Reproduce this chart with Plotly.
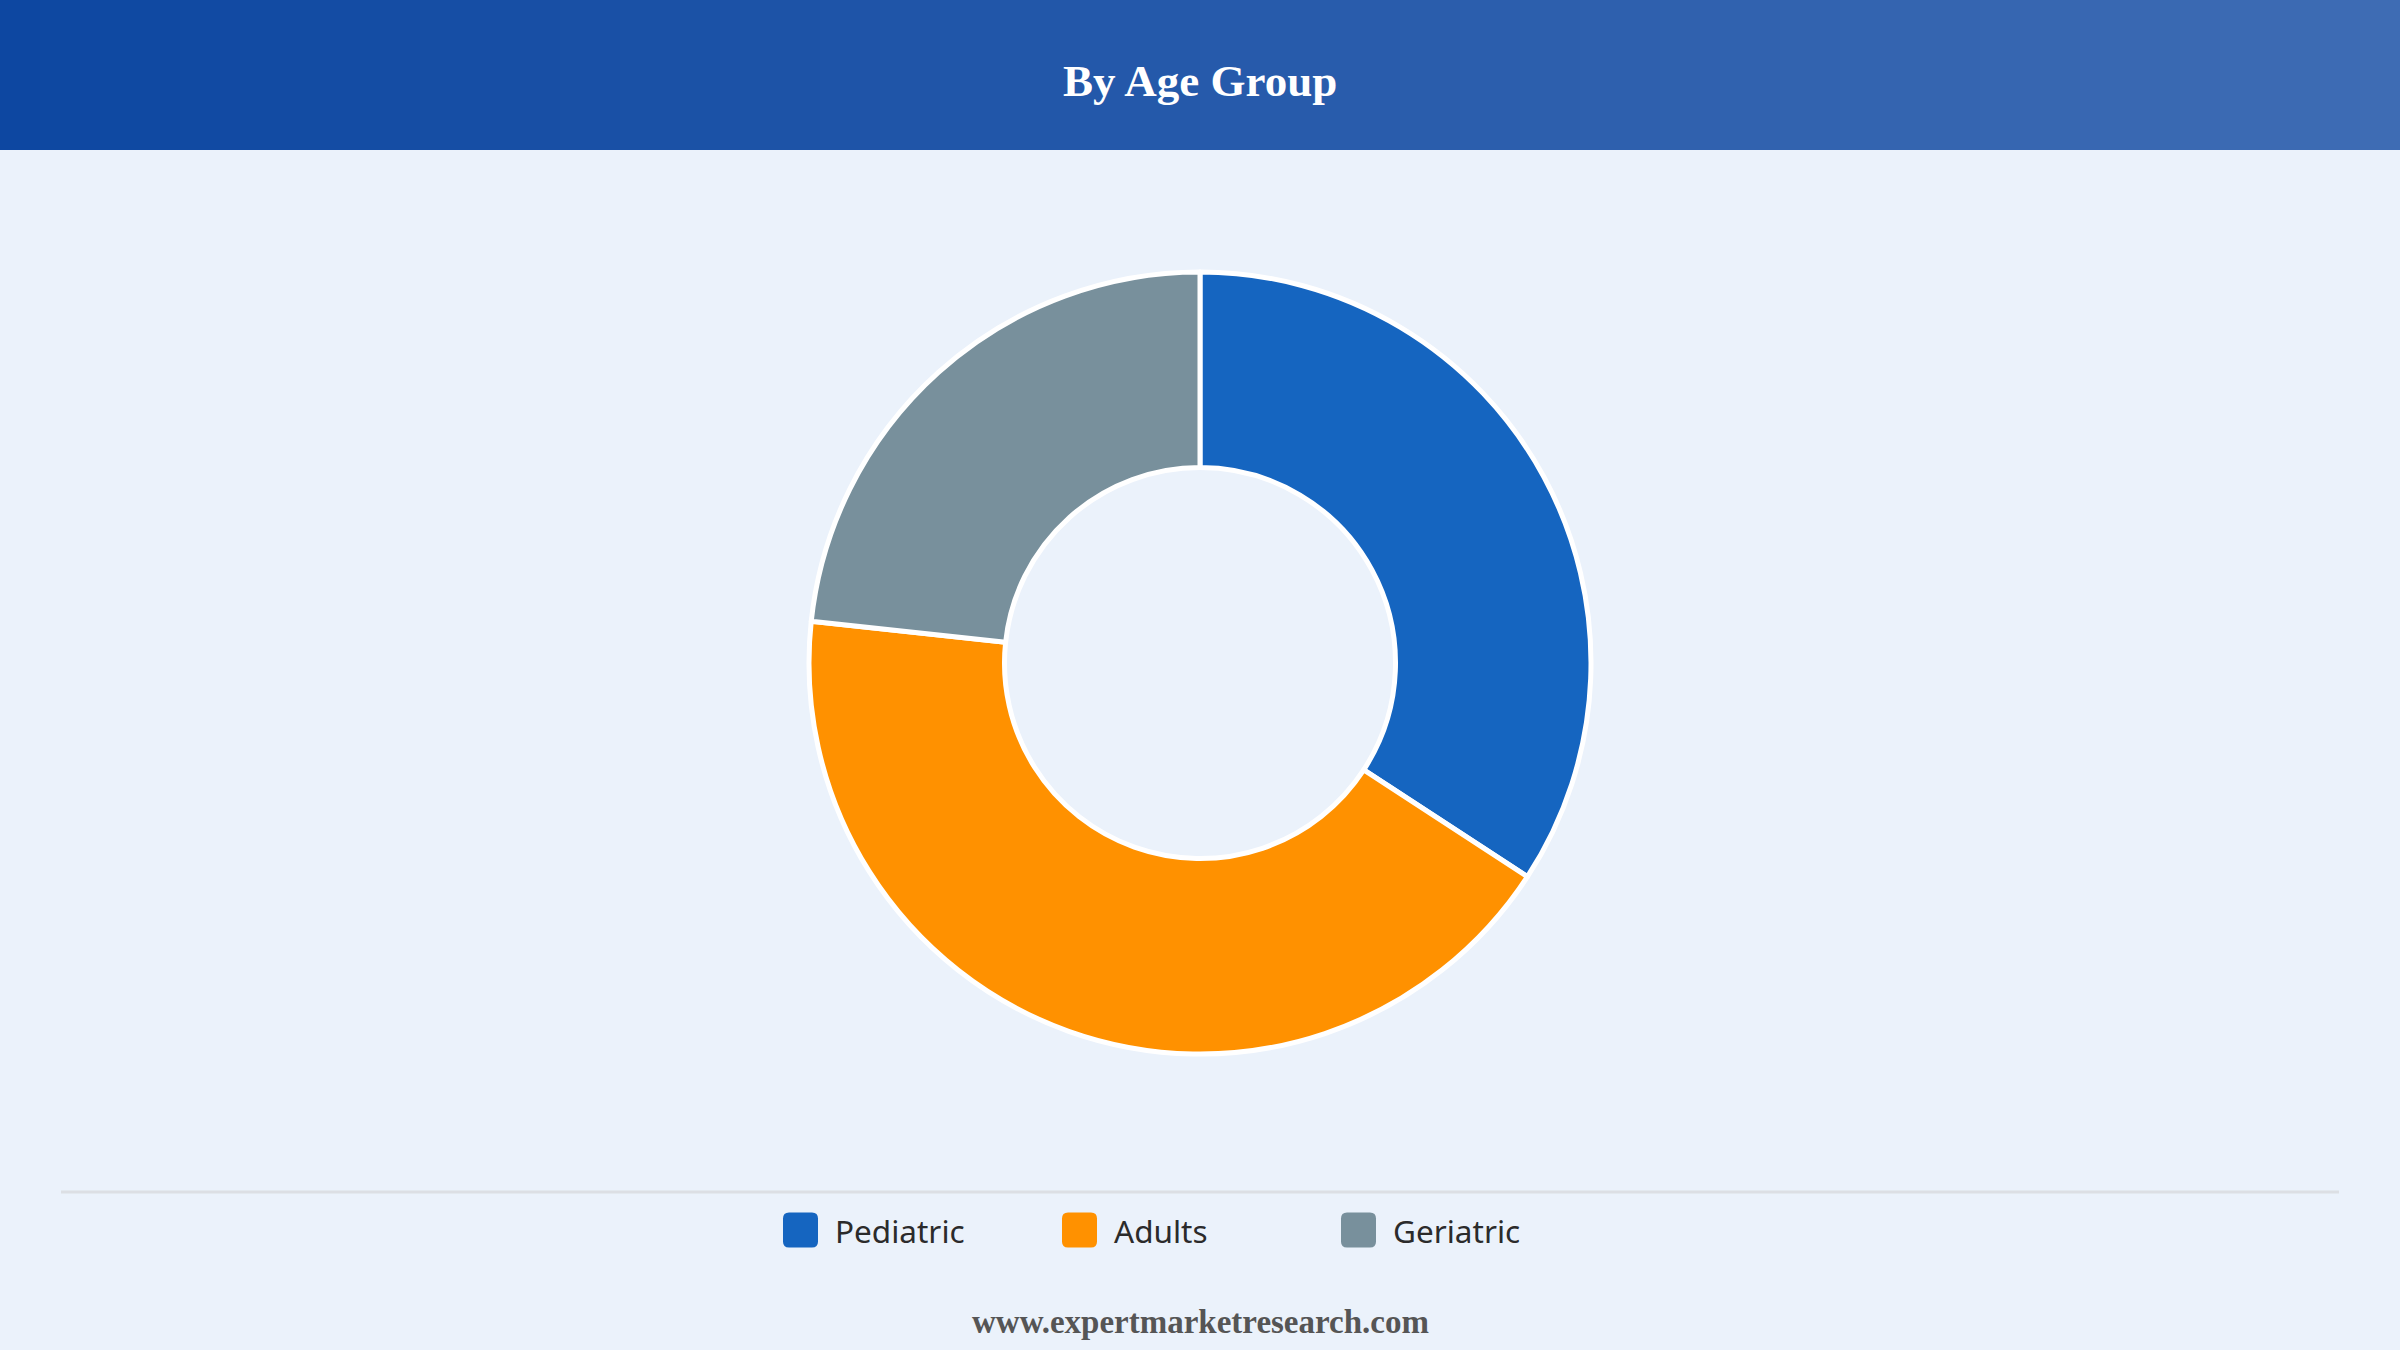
import plotly.graph_objects as go

# ---- data ----
labels = ["Pediatric", "Adults", "Geriatric"]
values = [34.2, 42.5, 23.3]
colors = ["#1565C0", "#FF9100", "#78909C"]

title_text = "By Age Group"
footer_text = "www.expertmarketresearch.com"

W, H = 2400, 1350
BG = "#EBF2FB"

def px(x):
    return x / W

def py(y):
    return 1 - y / H

fig = go.Figure()

PIE_CY = 663
PIE_R = 391

fig.add_trace(go.Pie(
    labels=labels,
    values=values,
    marker=dict(colors=colors, line=dict(color="white", width=5)),
    hole=0.5,
    sort=False,
    direction="clockwise",
    rotation=0,
    textinfo="none",
    hoverinfo="label+percent",
    showlegend=False,
    domain=dict(x=[0, 1], y=[py(PIE_CY + PIE_R), py(PIE_CY - PIE_R)]),
))

shapes = []
# header gradient
c0 = (13, 71, 161)
c1 = (62, 108, 180)
N = 120
for i in range(N):
    t = i / (N - 1)
    c = tuple(round(c0[k] + (c1[k] - c0[k]) * t) for k in range(3))
    shapes.append(dict(type="rect", xref="paper", yref="paper",
                       x0=i / N, x1=(i + 1) / N + 0.001, y0=py(150), y1=1,
                       fillcolor="rgb(%d,%d,%d)" % c, line=dict(width=0), layer="below"))

# divider line
shapes.append(dict(type="line", xref="paper", yref="paper",
                   x0=px(61), x1=px(2339), y0=py(1192), y1=py(1192),
                   line=dict(color="#DCDFE4", width=3)))

annotations = [
    dict(text="<b>" + title_text + "</b>", x=0.5, y=py(81), xref="paper", yref="paper",
         showarrow=False, xanchor="center", yanchor="middle",
         font=dict(family="Liberation Serif", size=45, color="white")),
    dict(text="<b>" + footer_text + "</b>", x=0.5, y=py(1322), xref="paper", yref="paper",
         showarrow=False, xanchor="center", yanchor="middle",
         font=dict(family="Liberation Serif", size=33, color="#555555")),
]

# custom legend
sw_x0 = 783
step = 279
sw = 35
cy = 1230
r = 6
for i, (lab, col) in enumerate(zip(labels, colors)):
    x0 = sw_x0 + i * step
    x1 = x0 + sw
    y0 = cy - sw / 2
    y1 = cy + sw / 2
    path = (f"M {px(x0 + r)},{py(y0)} L {px(x1 - r)},{py(y0)} "
            f"Q {px(x1)},{py(y0)} {px(x1)},{py(y0 + r)} "
            f"L {px(x1)},{py(y1 - r)} Q {px(x1)},{py(y1)} {px(x1 - r)},{py(y1)} "
            f"L {px(x0 + r)},{py(y1)} Q {px(x0)},{py(y1)} {px(x0)},{py(y1 - r)} "
            f"L {px(x0)},{py(y0 + r)} Q {px(x0)},{py(y0)} {px(x0 + r)},{py(y0)} Z")
    shapes.append(dict(type="path", xref="paper", yref="paper", path=path,
                       fillcolor=col, line=dict(width=0)))
    annotations.append(dict(text=lab, x=px(x1 + 15), y=py(cy), xref="paper", yref="paper",
                            showarrow=False, xanchor="left", yanchor="middle",
                            font=dict(family="Noto Sans", size=31.5, color="#2B2B2B")))

fig.update_layout(
    width=W, height=H,
    margin=dict(l=0, r=0, t=0, b=0),
    paper_bgcolor=BG,
    plot_bgcolor=BG,
    shapes=shapes,
    annotations=annotations,
)

fig.write_html(
    "out.html",
    config={"displayModeBar": False},
    post_script="document.body.style.margin='0';document.body.style.overflow='hidden';",
)
